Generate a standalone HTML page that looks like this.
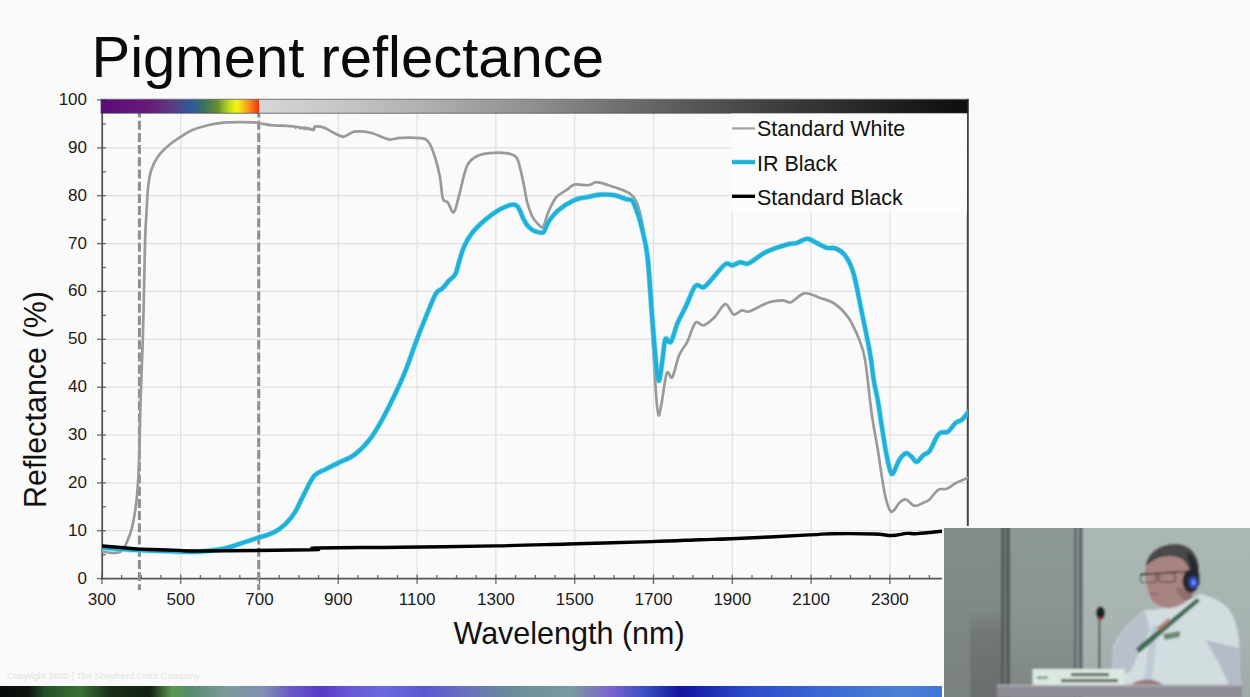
<!DOCTYPE html>
<html><head><meta charset="utf-8"><style>
html,body{margin:0;padding:0;}
body{width:1250px;height:697px;overflow:hidden;position:relative;background:#fafafa;font-family:"Liberation Sans",sans-serif;color:#111;}
.title{position:absolute;left:91.5px;top:24.5px;font-size:58px;line-height:64px;white-space:nowrap;color:#0a0a0a;}
svg.chart{position:absolute;left:0;top:0;}
.yl{position:absolute;left:37px;width:50px;text-align:right;font-size:17px;line-height:18px;color:#1a1a1a;}
.xl{position:absolute;top:591px;width:80px;text-align:center;font-size:17px;line-height:18px;color:#1a1a1a;}
.xt{position:absolute;left:453.5px;top:616.5px;font-size:30.5px;line-height:32px;white-space:nowrap;color:#111;}
.yt{position:absolute;left:19px;top:507.5px;font-size:30.5px;line-height:32px;white-space:nowrap;transform-origin:0 0;transform:rotate(-90deg);color:#111;}
.lg{position:absolute;left:757px;font-size:21.5px;line-height:24px;white-space:nowrap;color:#111;}
.copy{position:absolute;left:7px;top:671px;font-size:9.15px;line-height:11px;color:#e2e2e2;white-space:nowrap;}
.strip{position:absolute;left:0;top:686.4px;width:944px;height:10.6px;background:linear-gradient(90deg,#0a0c0a 0.0%,#0e140e 3.0%,#24502a 4.8%,#3a7036 8.5%,#1a2e1a 11.7%,#142014 15.9%,#5a9a50 18.2%,#5a8a70 20.3%,#7a9a98 23.8%,#8090b0 27.8%,#6a58c8 30.9%,#5a3ac8 34.1%,#6a5ad8 37.3%,#6a6ae0 40.8%,#5a5ad0 45.0%,#6a70c0 49.3%,#6a8c98 54.0%,#7a9aa0 60.4%,#7a62d0 64.8%,#3a50c0 68.3%,#1414a0 72.2%,#2a48c8 78.4%,#3a68d4 86.9%,#4a80d4 95.3%,#4076d8 100.0%);}
.video{position:absolute;left:944px;top:528px;width:306px;height:169px;overflow:hidden;}
.vborder{position:absolute;left:941.5px;top:525.5px;width:310px;height:173px;background:#fafafa;}
</style></head><body>
<div class="title">Pigment reflectance</div>
<svg class="chart" width="1250" height="697" viewBox="0 0 1250 697">
<g stroke="#e0e0e0" stroke-width="1.2"><line x1="102" y1="530.7" x2="968" y2="530.7"/><line x1="102" y1="482.9" x2="968" y2="482.9"/><line x1="102" y1="435.0" x2="968" y2="435.0"/><line x1="102" y1="387.2" x2="968" y2="387.2"/><line x1="102" y1="339.3" x2="968" y2="339.3"/><line x1="102" y1="291.4" x2="968" y2="291.4"/><line x1="102" y1="243.6" x2="968" y2="243.6"/><line x1="102" y1="195.7" x2="968" y2="195.7"/><line x1="102" y1="147.9" x2="968" y2="147.9"/><line x1="180.7" y1="113" x2="180.7" y2="578"/><line x1="259.5" y1="113" x2="259.5" y2="578"/><line x1="338.3" y1="113" x2="338.3" y2="578"/><line x1="417.1" y1="113" x2="417.1" y2="578"/><line x1="495.9" y1="113" x2="495.9" y2="578"/><line x1="574.7" y1="113" x2="574.7" y2="578"/><line x1="653.5" y1="113" x2="653.5" y2="578"/><line x1="732.3" y1="113" x2="732.3" y2="578"/><line x1="811.1" y1="113" x2="811.1" y2="578"/><line x1="889.9" y1="113" x2="889.9" y2="578"/></g>
<g stroke="#6a6a6a" stroke-width="1.3"><line x1="97" y1="578.6" x2="106" y2="578.6"/><line x1="97" y1="530.7" x2="106" y2="530.7"/><line x1="97" y1="482.9" x2="106" y2="482.9"/><line x1="97" y1="435.0" x2="106" y2="435.0"/><line x1="97" y1="387.2" x2="106" y2="387.2"/><line x1="97" y1="339.3" x2="106" y2="339.3"/><line x1="97" y1="291.4" x2="106" y2="291.4"/><line x1="97" y1="243.6" x2="106" y2="243.6"/><line x1="97" y1="195.7" x2="106" y2="195.7"/><line x1="97" y1="147.9" x2="106" y2="147.9"/><line x1="97" y1="100.0" x2="106" y2="100.0"/><line x1="102" y1="554.7" x2="106" y2="554.7"/><line x1="102" y1="506.8" x2="106" y2="506.8"/><line x1="102" y1="459.0" x2="106" y2="459.0"/><line x1="102" y1="411.1" x2="106" y2="411.1"/><line x1="102" y1="363.2" x2="106" y2="363.2"/><line x1="102" y1="315.4" x2="106" y2="315.4"/><line x1="102" y1="267.5" x2="106" y2="267.5"/><line x1="102" y1="219.7" x2="106" y2="219.7"/><line x1="102" y1="171.8" x2="106" y2="171.8"/><line x1="102" y1="123.9" x2="106" y2="123.9"/><line x1="101.9" y1="574.5" x2="101.9" y2="584"/><line x1="180.7" y1="574.5" x2="180.7" y2="584"/><line x1="259.5" y1="574.5" x2="259.5" y2="584"/><line x1="338.3" y1="574.5" x2="338.3" y2="584"/><line x1="417.1" y1="574.5" x2="417.1" y2="584"/><line x1="495.9" y1="574.5" x2="495.9" y2="584"/><line x1="574.7" y1="574.5" x2="574.7" y2="584"/><line x1="653.5" y1="574.5" x2="653.5" y2="584"/><line x1="732.3" y1="574.5" x2="732.3" y2="584"/><line x1="811.1" y1="574.5" x2="811.1" y2="584"/><line x1="889.9" y1="574.5" x2="889.9" y2="584"/><line x1="968.7" y1="574.5" x2="968.7" y2="584"/><line x1="121.6" y1="575" x2="121.6" y2="578.5"/><line x1="141.3" y1="575" x2="141.3" y2="578.5"/><line x1="161.0" y1="575" x2="161.0" y2="578.5"/><line x1="200.4" y1="575" x2="200.4" y2="578.5"/><line x1="220.1" y1="575" x2="220.1" y2="578.5"/><line x1="239.8" y1="575" x2="239.8" y2="578.5"/><line x1="279.2" y1="575" x2="279.2" y2="578.5"/><line x1="298.9" y1="575" x2="298.9" y2="578.5"/><line x1="318.6" y1="575" x2="318.6" y2="578.5"/><line x1="358.0" y1="575" x2="358.0" y2="578.5"/><line x1="377.7" y1="575" x2="377.7" y2="578.5"/><line x1="397.4" y1="575" x2="397.4" y2="578.5"/><line x1="436.8" y1="575" x2="436.8" y2="578.5"/><line x1="456.5" y1="575" x2="456.5" y2="578.5"/><line x1="476.2" y1="575" x2="476.2" y2="578.5"/><line x1="515.6" y1="575" x2="515.6" y2="578.5"/><line x1="535.3" y1="575" x2="535.3" y2="578.5"/><line x1="555.0" y1="575" x2="555.0" y2="578.5"/><line x1="594.4" y1="575" x2="594.4" y2="578.5"/><line x1="614.1" y1="575" x2="614.1" y2="578.5"/><line x1="633.8" y1="575" x2="633.8" y2="578.5"/><line x1="673.2" y1="575" x2="673.2" y2="578.5"/><line x1="692.9" y1="575" x2="692.9" y2="578.5"/><line x1="712.6" y1="575" x2="712.6" y2="578.5"/><line x1="752.0" y1="575" x2="752.0" y2="578.5"/><line x1="771.7" y1="575" x2="771.7" y2="578.5"/><line x1="791.4" y1="575" x2="791.4" y2="578.5"/><line x1="830.8" y1="575" x2="830.8" y2="578.5"/><line x1="850.5" y1="575" x2="850.5" y2="578.5"/><line x1="870.2" y1="575" x2="870.2" y2="578.5"/><line x1="909.6" y1="575" x2="909.6" y2="578.5"/><line x1="929.3" y1="575" x2="929.3" y2="578.5"/><line x1="949.0" y1="575" x2="949.0" y2="578.5"/></g>
<line x1="102.2" y1="113" x2="102.2" y2="578.5" stroke="#555" stroke-width="1.8"/>
<line x1="101" y1="578.7" x2="968" y2="578.7" stroke="#555" stroke-width="1.8"/>
<line x1="967.8" y1="99" x2="967.8" y2="578" stroke="#454545" stroke-width="2"/>
<g stroke="#8e8e8e" stroke-width="3" stroke-dasharray="9 3.2"><line x1="139.4" y1="108.5" x2="139.4" y2="590"/><line x1="258.7" y1="108.5" x2="258.7" y2="590"/></g>
<defs>
<linearGradient id="spec" x1="0" x2="1" y1="0" y2="0">
<stop offset="0" stop-color="#5c0a78"/>
<stop offset="0.3" stop-color="#661a7a"/>
<stop offset="0.45" stop-color="#5e3a80"/>
<stop offset="0.57" stop-color="#2e5a9a"/>
<stop offset="0.65" stop-color="#3a7060"/>
<stop offset="0.74" stop-color="#6a9030"/>
<stop offset="0.81" stop-color="#c0dc20"/>
<stop offset="0.86" stop-color="#f4f412"/>
<stop offset="0.93" stop-color="#f89a20"/>
<stop offset="1" stop-color="#f03010"/>
</linearGradient>
<linearGradient id="grayg" x1="0" x2="1" y1="0" y2="0">
<stop offset="0" stop-color="#d6d6d6"/>
<stop offset="0.128" stop-color="#c4c4c4"/>
<stop offset="0.269" stop-color="#a8a8a8"/>
<stop offset="0.382" stop-color="#909090"/>
<stop offset="0.508" stop-color="#707070"/>
<stop offset="0.621" stop-color="#555555"/>
<stop offset="0.762" stop-color="#383838"/>
<stop offset="0.903" stop-color="#1e1e1e"/>
<stop offset="1" stop-color="#0e0e0e"/>
</linearGradient>
</defs>
<rect x="101" y="99.5" width="158" height="13.6" fill="url(#spec)"/>
<rect x="259" y="99.5" width="709" height="13.6" fill="url(#grayg)"/>
<rect x="101" y="99.3" width="867" height="14" fill="none" stroke="#3c4656" stroke-width="1.2" opacity="0.6"/>
<clipPath id="plot"><rect x="102" y="99" width="866" height="480"/></clipPath><g clip-path="url(#plot)">
<path d="M102.5,551.5 C104.3,551.8 110.4,553.0 113.5,553.0 C116.6,553.0 119.1,552.8 121.3,551.2 C123.5,549.6 124.7,547.1 126.4,543.4 C128.1,539.7 130.1,535.0 131.6,529.2 C133.1,523.4 134.4,516.2 135.5,508.5 C136.6,500.8 137.4,492.2 138.0,482.7 C138.6,473.2 138.9,465.5 139.3,451.7 C139.7,437.9 140.0,418.8 140.6,400.0 C141.2,381.2 142.2,357.1 142.8,338.9 C143.4,320.7 143.6,307.1 144.0,290.6 C144.4,274.1 144.7,253.4 145.1,240.0 C145.5,226.6 146.1,219.3 146.6,210.4 C147.1,201.5 147.4,193.0 148.2,186.3 C149.0,179.6 149.5,175.2 151.2,170.2 C152.9,165.2 155.0,160.5 158.2,156.2 C161.4,151.8 166.6,147.3 170.3,144.1 C174.0,140.9 176.6,139.4 180.3,137.1 C184.0,134.8 187.7,132.1 192.4,130.1 C197.2,128.1 203.7,126.2 208.8,125.0 C213.9,123.8 217.9,123.1 223.2,122.6 C228.5,122.1 235.4,122.1 240.5,122.1 C245.6,122.1 250.1,122.2 253.5,122.4 C256.9,122.6 257.3,123.0 260.7,123.5 C264.1,124.0 268.9,125.1 273.7,125.5 C278.5,125.9 284.0,125.5 289.5,126.0 C295.0,126.5 302.8,127.7 306.8,128.3 C310.9,128.9 312.4,130.1 313.8,129.8 C315.2,129.5 313.3,127.0 315.0,126.6 C316.7,126.2 321.1,126.7 324.0,127.6 C326.9,128.5 329.5,130.7 332.7,132.2 C335.9,133.7 339.8,136.8 343.4,136.7 C347.0,136.6 349.9,132.4 354.4,131.7 C358.9,131.0 364.8,131.4 370.5,132.7 C376.2,134.0 383.6,138.6 388.6,139.4 C393.6,140.2 395.2,138.0 400.6,137.8 C406.0,137.6 416.0,137.5 420.7,138.2 C425.4,138.9 426.4,139.2 428.7,142.2 C431.0,145.2 432.8,150.5 434.7,156.2 C436.6,161.9 438.4,169.3 439.8,176.3 C441.2,183.3 441.5,194.1 442.8,198.4 C444.1,202.8 446.0,200.1 447.8,202.4 C449.6,204.7 452.0,213.4 453.8,212.4 C455.6,211.4 456.6,204.1 458.8,196.4 C461.0,188.7 463.9,173.0 466.9,166.3 C469.9,159.6 473.0,158.4 476.9,156.2 C480.8,154.0 485.1,153.6 490.0,153.1 C494.9,152.6 501.8,152.4 506.1,153.1 C510.5,153.8 513.8,154.6 516.1,157.1 C518.4,159.6 518.8,163.2 520.1,168.1 C521.4,172.9 522.9,180.5 524.1,186.2 C525.3,191.9 525.8,197.2 527.1,202.2 C528.5,207.2 530.4,212.6 532.2,216.3 C534.1,220.0 536.4,222.6 538.2,224.3 C540.0,226.0 541.5,228.7 543.2,226.7 C544.9,224.7 546.0,217.2 548.2,212.3 C550.4,207.4 553.3,200.9 556.3,197.2 C559.3,193.5 563.3,192.3 566.3,190.2 C569.3,188.1 570.6,185.4 574.3,184.6 C578.0,183.8 584.7,185.6 588.4,185.2 C592.1,184.8 593.0,182.2 596.4,182.2 C599.8,182.2 604.5,184.0 608.5,185.2 C612.5,186.4 616.8,187.7 620.5,189.2 C624.2,190.7 627.9,192.0 630.6,194.2 C633.3,196.4 634.6,197.1 636.6,202.2 C638.6,207.3 640.9,215.0 642.6,225.0 C644.3,235.0 645.6,247.0 647.0,262.0 C648.4,277.0 649.8,297.0 651.0,315.0 C652.2,333.0 653.6,355.8 654.5,370.0 C655.4,384.2 655.8,392.4 656.5,400.0 C657.2,407.6 657.8,414.6 658.6,415.4 C659.4,416.1 660.0,411.6 661.4,404.5 C662.8,397.4 665.0,377.7 666.8,373.1 C668.6,368.6 670.2,380.1 672.3,377.2 C674.3,374.2 676.6,361.3 679.1,355.4 C681.6,349.5 684.6,347.2 687.3,341.8 C690.0,336.4 692.7,325.4 695.4,322.7 C698.1,320.0 700.4,326.3 703.6,325.4 C706.8,324.5 710.9,320.7 714.5,317.2 C718.1,313.7 722.2,304.6 725.4,304.2 C728.6,303.8 730.9,313.5 733.6,314.5 C736.3,315.5 739.1,310.9 741.8,310.4 C744.5,309.8 745.5,312.6 750.0,311.2 C754.5,309.8 763.5,304.0 769.0,302.2 C774.5,300.4 779.1,300.3 782.7,300.3 C786.4,300.3 787.3,303.4 790.9,302.2 C794.5,301.0 799.5,294.0 804.5,293.3 C809.5,292.6 815.8,296.5 820.8,298.2 C825.8,299.9 830.0,300.4 834.5,303.6 C839.0,306.8 844.0,311.3 848.1,317.2 C852.2,323.1 856.2,331.9 859.0,339.0 C861.8,346.1 863.0,347.8 865.1,360.0 C867.2,372.2 869.4,397.1 871.5,412.3 C873.6,427.5 875.9,437.7 878.0,451.0 C880.1,464.3 882.4,482.0 884.4,491.9 C886.4,501.8 888.2,507.1 889.8,510.2 C891.4,513.2 892.5,511.4 894.1,510.2 C895.7,508.9 897.5,504.5 899.5,502.7 C901.5,500.9 903.5,499.0 906.0,499.5 C908.5,500.0 911.7,505.4 914.6,505.9 C917.5,506.4 920.7,503.8 923.2,502.7 C925.7,501.6 927.1,501.6 929.6,499.5 C932.1,497.4 935.3,491.6 938.2,489.8 C941.1,488.0 944.0,489.8 946.9,488.7 C949.8,487.6 952.0,485.1 955.5,483.3 C959.0,481.5 965.9,478.8 968.0,477.9" fill="none" stroke="#9a9a9a" stroke-width="2.7" stroke-linejoin="round" stroke-linecap="round"/>
<path d="M102.5,547.8 C106.1,548.0 117.8,548.9 124.0,549.3 C130.2,549.7 131.0,549.9 140.0,550.3 C149.0,550.7 168.0,551.4 178.0,551.6 C188.0,551.8 192.3,552.1 200.0,551.6 C207.7,551.1 217.1,550.0 224.4,548.5 C231.7,547.0 238.2,544.2 243.9,542.4 C249.6,540.6 253.6,539.2 258.5,537.6 C263.4,536.0 268.7,535.0 273.2,532.7 C277.7,530.5 281.8,527.6 285.4,524.1 C289.0,520.6 291.9,517.3 295.1,512.0 C298.4,506.7 301.6,498.5 304.9,492.4 C308.1,486.3 311.1,479.3 314.6,475.4 C318.1,471.5 321.8,471.3 325.8,469.2 C329.8,467.1 334.0,465.1 338.7,462.7 C343.4,460.3 349.0,458.9 354.2,455.0 C359.4,451.1 365.0,445.5 369.7,439.5 C374.4,433.5 378.3,426.6 382.6,418.8 C386.9,411.1 391.7,401.2 395.6,393.0 C399.5,384.8 402.5,378.3 405.9,369.7 C409.3,361.1 412.7,350.6 416.2,341.3 C419.7,332.0 423.7,321.9 427.0,314.0 C430.3,306.1 433.3,297.9 435.9,293.6 C438.5,289.4 440.2,290.6 442.4,288.5 C444.6,286.4 446.8,283.1 448.9,280.7 C451.0,278.3 453.6,277.5 455.3,274.3 C457.0,271.1 457.7,266.1 459.2,261.3 C460.7,256.6 462.2,250.5 464.4,245.8 C466.5,241.1 468.7,237.2 472.1,232.9 C475.5,228.6 480.4,223.9 485.0,220.0 C489.6,216.1 495.5,211.9 500.0,209.3 C504.5,206.8 509.1,205.0 512.1,204.7 C515.1,204.4 516.1,204.7 518.1,207.3 C520.1,209.9 522.4,217.1 524.1,220.3 C525.8,223.5 526.5,224.6 528.2,226.3 C529.9,228.1 531.7,229.8 534.2,230.8 C536.7,231.8 540.9,233.8 543.2,232.4 C545.5,231.0 545.7,226.0 548.2,222.3 C550.7,218.6 553.9,214.0 558.3,210.3 C562.6,206.6 569.6,202.4 574.3,200.2 C579.0,198.0 582.0,198.1 586.4,197.2 C590.8,196.3 595.7,194.9 600.4,194.6 C605.1,194.3 610.1,194.4 614.5,195.2 C618.9,196.0 623.5,198.2 626.5,199.2 C629.5,200.2 630.6,198.3 632.6,201.2 C634.6,204.0 637.0,211.5 638.6,216.3 C640.2,221.1 640.8,223.2 642.3,230.0 C643.8,236.8 646.1,243.7 647.7,257.3 C649.3,270.9 650.6,295.9 651.8,311.8 C653.0,327.7 654.2,342.2 655.1,352.7 C656.0,363.1 656.6,369.9 657.3,374.5 C658.0,379.1 658.5,382.7 659.4,380.0 C660.3,377.3 661.7,364.9 662.7,358.1 C663.7,351.3 664.0,341.8 665.4,339.1 C666.8,336.4 668.8,344.5 670.9,341.8 C673.0,339.1 675.2,328.6 677.7,322.7 C680.2,316.8 683.0,312.4 685.9,306.3 C688.8,300.2 692.4,289.1 695.4,285.9 C698.4,282.7 700.9,288.4 703.6,287.3 C706.3,286.2 708.2,283.0 711.8,279.1 C715.4,275.2 722.0,266.4 725.4,264.1 C728.8,261.8 729.7,265.7 732.2,265.4 C734.7,265.1 737.7,262.5 740.4,262.2 C743.1,261.9 744.3,265.0 748.6,263.3 C752.9,261.6 759.7,255.0 766.3,251.8 C772.9,248.6 783.1,245.6 788.1,244.2 C793.1,242.8 793.1,244.0 796.3,243.1 C799.5,242.2 804.0,238.8 807.2,238.7 C810.4,238.6 812.2,240.8 815.4,242.3 C818.6,243.8 822.9,246.7 826.3,247.7 C829.7,248.7 832.6,247.1 835.8,248.5 C839.0,249.9 842.4,251.7 845.4,255.9 C848.4,260.1 850.9,264.3 853.6,273.6 C856.3,282.9 859.0,298.6 861.7,311.8 C864.4,325.0 867.9,341.3 869.9,352.7 C871.9,364.1 872.4,371.9 873.7,380.0 C875.1,388.1 876.6,393.2 878.0,401.5 C879.4,409.8 880.9,420.5 882.3,429.5 C883.7,438.5 885.2,448.1 886.6,455.3 C888.0,462.5 889.6,469.9 890.9,472.6 C892.1,475.3 892.7,473.7 894.1,471.5 C895.5,469.3 897.5,462.7 899.5,459.6 C901.5,456.6 904.0,453.7 906.0,453.2 C908.0,452.7 909.5,455.0 911.3,456.4 C913.1,457.8 914.7,462.0 916.7,461.8 C918.7,461.6 921.1,457.1 923.2,455.3 C925.4,453.5 927.5,453.9 929.6,451.0 C931.8,448.1 934.3,441.2 936.1,438.1 C937.9,435.1 938.4,433.8 940.4,432.7 C942.4,431.6 945.4,433.3 947.9,431.7 C950.4,430.1 953.2,425.0 955.5,423.0 C957.8,421.0 959.8,421.6 961.9,419.8 C964.0,418.0 967.0,413.6 968.0,412.3" fill="none" stroke="#58d4f0" stroke-width="5.6" stroke-linejoin="round" stroke-linecap="round" opacity="0.55"/>
<path d="M102.5,547.8 C106.1,548.0 117.8,548.9 124.0,549.3 C130.2,549.7 131.0,549.9 140.0,550.3 C149.0,550.7 168.0,551.4 178.0,551.6 C188.0,551.8 192.3,552.1 200.0,551.6 C207.7,551.1 217.1,550.0 224.4,548.5 C231.7,547.0 238.2,544.2 243.9,542.4 C249.6,540.6 253.6,539.2 258.5,537.6 C263.4,536.0 268.7,535.0 273.2,532.7 C277.7,530.5 281.8,527.6 285.4,524.1 C289.0,520.6 291.9,517.3 295.1,512.0 C298.4,506.7 301.6,498.5 304.9,492.4 C308.1,486.3 311.1,479.3 314.6,475.4 C318.1,471.5 321.8,471.3 325.8,469.2 C329.8,467.1 334.0,465.1 338.7,462.7 C343.4,460.3 349.0,458.9 354.2,455.0 C359.4,451.1 365.0,445.5 369.7,439.5 C374.4,433.5 378.3,426.6 382.6,418.8 C386.9,411.1 391.7,401.2 395.6,393.0 C399.5,384.8 402.5,378.3 405.9,369.7 C409.3,361.1 412.7,350.6 416.2,341.3 C419.7,332.0 423.7,321.9 427.0,314.0 C430.3,306.1 433.3,297.9 435.9,293.6 C438.5,289.4 440.2,290.6 442.4,288.5 C444.6,286.4 446.8,283.1 448.9,280.7 C451.0,278.3 453.6,277.5 455.3,274.3 C457.0,271.1 457.7,266.1 459.2,261.3 C460.7,256.6 462.2,250.5 464.4,245.8 C466.5,241.1 468.7,237.2 472.1,232.9 C475.5,228.6 480.4,223.9 485.0,220.0 C489.6,216.1 495.5,211.9 500.0,209.3 C504.5,206.8 509.1,205.0 512.1,204.7 C515.1,204.4 516.1,204.7 518.1,207.3 C520.1,209.9 522.4,217.1 524.1,220.3 C525.8,223.5 526.5,224.6 528.2,226.3 C529.9,228.1 531.7,229.8 534.2,230.8 C536.7,231.8 540.9,233.8 543.2,232.4 C545.5,231.0 545.7,226.0 548.2,222.3 C550.7,218.6 553.9,214.0 558.3,210.3 C562.6,206.6 569.6,202.4 574.3,200.2 C579.0,198.0 582.0,198.1 586.4,197.2 C590.8,196.3 595.7,194.9 600.4,194.6 C605.1,194.3 610.1,194.4 614.5,195.2 C618.9,196.0 623.5,198.2 626.5,199.2 C629.5,200.2 630.6,198.3 632.6,201.2 C634.6,204.0 637.0,211.5 638.6,216.3 C640.2,221.1 640.8,223.2 642.3,230.0 C643.8,236.8 646.1,243.7 647.7,257.3 C649.3,270.9 650.6,295.9 651.8,311.8 C653.0,327.7 654.2,342.2 655.1,352.7 C656.0,363.1 656.6,369.9 657.3,374.5 C658.0,379.1 658.5,382.7 659.4,380.0 C660.3,377.3 661.7,364.9 662.7,358.1 C663.7,351.3 664.0,341.8 665.4,339.1 C666.8,336.4 668.8,344.5 670.9,341.8 C673.0,339.1 675.2,328.6 677.7,322.7 C680.2,316.8 683.0,312.4 685.9,306.3 C688.8,300.2 692.4,289.1 695.4,285.9 C698.4,282.7 700.9,288.4 703.6,287.3 C706.3,286.2 708.2,283.0 711.8,279.1 C715.4,275.2 722.0,266.4 725.4,264.1 C728.8,261.8 729.7,265.7 732.2,265.4 C734.7,265.1 737.7,262.5 740.4,262.2 C743.1,261.9 744.3,265.0 748.6,263.3 C752.9,261.6 759.7,255.0 766.3,251.8 C772.9,248.6 783.1,245.6 788.1,244.2 C793.1,242.8 793.1,244.0 796.3,243.1 C799.5,242.2 804.0,238.8 807.2,238.7 C810.4,238.6 812.2,240.8 815.4,242.3 C818.6,243.8 822.9,246.7 826.3,247.7 C829.7,248.7 832.6,247.1 835.8,248.5 C839.0,249.9 842.4,251.7 845.4,255.9 C848.4,260.1 850.9,264.3 853.6,273.6 C856.3,282.9 859.0,298.6 861.7,311.8 C864.4,325.0 867.9,341.3 869.9,352.7 C871.9,364.1 872.4,371.9 873.7,380.0 C875.1,388.1 876.6,393.2 878.0,401.5 C879.4,409.8 880.9,420.5 882.3,429.5 C883.7,438.5 885.2,448.1 886.6,455.3 C888.0,462.5 889.6,469.9 890.9,472.6 C892.1,475.3 892.7,473.7 894.1,471.5 C895.5,469.3 897.5,462.7 899.5,459.6 C901.5,456.6 904.0,453.7 906.0,453.2 C908.0,452.7 909.5,455.0 911.3,456.4 C913.1,457.8 914.7,462.0 916.7,461.8 C918.7,461.6 921.1,457.1 923.2,455.3 C925.4,453.5 927.5,453.9 929.6,451.0 C931.8,448.1 934.3,441.2 936.1,438.1 C937.9,435.1 938.4,433.8 940.4,432.7 C942.4,431.6 945.4,433.3 947.9,431.7 C950.4,430.1 953.2,425.0 955.5,423.0 C957.8,421.0 959.8,421.6 961.9,419.8 C964.0,418.0 967.0,413.6 968.0,412.3" fill="none" stroke="#20b0d8" stroke-width="4.1" stroke-linejoin="round" stroke-linecap="round"/>
<path d="M102.5,546.0 C106.0,546.3 117.7,547.3 123.8,547.8 C129.9,548.3 130.2,548.7 139.3,549.1 C148.4,549.5 168.0,550.1 178.1,550.4 C188.2,550.7 177.7,551.1 200.0,551.0 C222.3,550.9 292.9,550.3 312.2,549.8 C331.5,549.3 301.3,548.4 315.9,548.0 C330.5,547.6 370.0,547.6 400.0,547.3 C430.0,546.9 468.0,546.4 496.0,545.9 C524.0,545.4 542.0,544.7 568.0,544.0 C594.0,543.3 630.0,542.3 652.0,541.6 C674.0,540.9 686.7,540.2 700.0,539.7 C713.3,539.2 713.5,539.6 731.8,538.8 C750.1,538.0 793.0,535.7 809.6,534.9 C826.2,534.1 820.4,533.9 831.2,533.8 C842.0,533.6 864.3,533.7 874.4,534.0 C884.5,534.3 886.3,535.6 891.7,535.5 C897.1,535.4 902.5,533.7 906.8,533.4 C911.1,533.1 911.4,534.0 917.6,533.6 C923.8,533.2 939.6,531.4 944.0,531.0" fill="none" stroke="#000" stroke-width="3.4" stroke-linejoin="round" stroke-linecap="round"/>
<path d="M280.0,125.4 L281.2,125.2 L282.4,126.4 L283.6,125.3 L284.8,126.4 L286.0,126.2 L287.2,125.6 L288.4,126.7 L289.6,125.8 L290.8,126.8 L292.0,126.2 L293.2,126.3 L294.4,127.2 L295.6,128.2 L296.8,126.8 L298.0,127.1 L299.2,128.2 L300.4,129.0 L301.6,128.3 L302.8,128.1 L304.0,129.5 L305.2,127.5 L306.4,129.5 L307.6,128.3 L308.8,128.2 L310.0,128.2 L311.2,128.8 L312.4,130.0 L313.6,128.8" fill="none" stroke="#9a9a9a" stroke-width="1.6"/>
</g>
<rect x="731" y="113.5" width="236" height="99" fill="#fbfbfb" opacity="0.85"/>
<line x1="732" y1="128.4" x2="755" y2="128.4" stroke="#a0a0a0" stroke-width="2.2"/>
<line x1="732" y1="162.1" x2="755" y2="162.1" stroke="#58d4f0" stroke-width="5.2" opacity="0.55"/>
<line x1="732" y1="162.1" x2="755" y2="162.1" stroke="#20b0d8" stroke-width="3.8"/>
<line x1="732" y1="196.3" x2="755" y2="196.3" stroke="#000" stroke-width="3.4"/>
</svg>
<div class="yl" style="top:569.6px">0</div><div class="yl" style="top:521.7px">10</div><div class="yl" style="top:473.9px">20</div><div class="yl" style="top:426.0px">30</div><div class="yl" style="top:378.2px">40</div><div class="yl" style="top:330.3px">50</div><div class="yl" style="top:282.4px">60</div><div class="yl" style="top:234.6px">70</div><div class="yl" style="top:186.7px">80</div><div class="yl" style="top:138.9px">90</div><div class="yl" style="top:91.0px">100</div><div class="xl" style="left:61.9px">300</div><div class="xl" style="left:140.7px">500</div><div class="xl" style="left:219.5px">700</div><div class="xl" style="left:298.3px">900</div><div class="xl" style="left:377.1px">1100</div><div class="xl" style="left:455.9px">1300</div><div class="xl" style="left:534.7px">1500</div><div class="xl" style="left:613.5px">1700</div><div class="xl" style="left:692.3px">1900</div><div class="xl" style="left:771.1px">2100</div><div class="xl" style="left:849.9px">2300</div>
<div class="xt">Wavelength (nm)</div>
<div class="yt">Reflectance (%)</div>
<div class="lg" style="top:117.3px">Standard White</div>
<div class="lg" style="top:151.5px">IR Black</div>
<div class="lg" style="top:185.5px">Standard Black</div>
<div class="copy">Copyright 2025 | The Shepherd Color Company</div>
<div class="strip"></div>
<div class="vborder"></div>
<svg class="video" width="306" height="169" viewBox="944 528 306 169">
<defs>
<linearGradient id="bgR" x1="0" x2="0" y1="0" y2="1"><stop offset="0" stop-color="#aab8b6"/><stop offset="0.6" stop-color="#a8b4b2"/><stop offset="1" stop-color="#a0a8a6"/></linearGradient>
<linearGradient id="bgM" x1="0" x2="0" y1="0" y2="1"><stop offset="0" stop-color="#8e9a94"/><stop offset="0.5" stop-color="#8a9590"/><stop offset="1" stop-color="#7e8482"/></linearGradient>
<linearGradient id="bgL" x1="0" x2="0" y1="0" y2="1"><stop offset="0" stop-color="#848e8a"/><stop offset="1" stop-color="#7a8280"/></linearGradient>
<linearGradient id="shadowL" x1="0" x2="0" y1="0" y2="1"><stop offset="0" stop-color="#6e7272" stop-opacity="0"/><stop offset="0.3" stop-color="#6e7272" stop-opacity="0.85"/><stop offset="1" stop-color="#6a6e6e"/></linearGradient>
<radialGradient id="blue" cx="0.5" cy="0.5" r="0.5"><stop offset="0" stop-color="#9ab8ff"/><stop offset="0.45" stop-color="#3258e0"/><stop offset="1" stop-color="#283060"/></radialGradient>
<filter id="soft" x="-5%" y="-5%" width="110%" height="110%"><feGaussianBlur stdDeviation="0.9"/></filter>
</defs>
<g filter="url(#soft)">
<rect x="940" y="524" width="314" height="177" fill="url(#bgR)"/>
<rect x="940" y="524" width="62" height="177" fill="url(#bgL)"/>
<rect x="970" y="610" width="32" height="90" fill="url(#shadowL)"/>
<rect x="1001" y="524" width="9.5" height="177" fill="#525a58"/>
<rect x="1004" y="524" width="2.5" height="177" fill="#6e7876"/>
<rect x="1010.5" y="524" width="63.5" height="177" fill="url(#bgM)"/>
<rect x="1074" y="524" width="8.7" height="177" fill="#5e686a"/>
<rect x="1076.5" y="524" width="2.5" height="177" fill="#869094"/>
<!-- mic -->
<rect x="1098.6" y="616" width="1.6" height="54" fill="#303432"/>
<ellipse cx="1100.5" cy="613" rx="4.6" ry="6.5" fill="#18221e"/>
<ellipse cx="1100.5" cy="618.5" rx="3" ry="1.6" fill="#a83040"/>
<!-- shirt -->
<path d="M1145,610 C1134,618 1121,630 1113,648 L1111,697 L1241,697 L1239,640 C1237,625 1233,614 1227,607 C1219,600 1209,596 1200,594 C1190,600 1180,605 1166,608 C1158,610 1150,610 1145,610 Z" fill="#d2dde0"/>
<path d="M1113,650 C1121,632 1134,618 1145,611 L1150,630 C1142,645 1136,660 1130,672 L1112,676 Z" fill="#b8c0cc"/>
<path d="M1205,640 C1218,660 1228,680 1233,697 L1241,697 L1239,648 Z" fill="#b4bcc8"/>
<path d="M1152,626 C1150,640 1146,660 1144,680 L1152,682 C1154,662 1156,642 1158,626 Z" fill="#c0cad4"/>
<!-- lanyard -->
<path d="M1136,649 L1141,644 L1197,598 L1200,601 L1144,649 L1139,653 Z" fill="#3c6a52"/>
<path d="M1156,628 L1168,618 L1172,621 L1160,631 Z" fill="#b06a6a" opacity="0.7"/>
<path d="M1163,634 L1180,631 L1180,637 L1165,640 Z" fill="#6a8a72"/>
<!-- neck -->
<path d="M1152,600 C1158,613 1176,612 1192,598 L1194,590 L1154,592 Z" fill="#c8cace"/>
<!-- face -->
<path d="M1147,562 C1150,552 1162,548 1176,549 C1190,551 1196,560 1196,574 L1194,590 C1190,602 1178,608 1166,608 C1155,607 1150,600 1148,590 C1145,580 1144,570 1147,562 Z" fill="#a88480"/>
<path d="M1146,563 C1150,550 1162,544 1175,544 C1189,544 1197,552 1199,566 L1199,584 L1193,586 C1191,572 1188,564 1182,559 C1172,554 1158,555 1146,566 Z" fill="#4a4a4c"/>
<path d="M1186,552 C1196,556 1200,566 1200,584 L1194,590 L1190,566 Z" fill="#2c2c2e"/>
<path d="M1175,588 C1180,598 1185,604 1192,598 L1194,588 Z" fill="#8e7070"/>
<ellipse cx="1154" cy="594" rx="4" ry="1.8" fill="#925e60" opacity="0.6"/>
<!-- glasses -->
<path d="M1140,575 C1160,573 1175,572 1188,571.5" stroke="#4a4040" stroke-width="1.3" fill="none"/>
<rect x="1140.5" y="573.5" width="16" height="9" rx="2.5" fill="none" stroke="#4a4242" stroke-width="1.1"/>
<rect x="1159" y="573" width="16" height="9" rx="2.5" fill="none" stroke="#4a4242" stroke-width="1.1"/>
<!-- headphone -->
<ellipse cx="1191" cy="581" rx="8.5" ry="11.5" fill="#26262c"/>
<ellipse cx="1193.5" cy="582.5" rx="5.5" ry="7" fill="url(#blue)"/>
<!-- hand -->
<path d="M1132,684 C1142,677 1158,678 1166,688 L1168,697 L1130,697 Z" fill="#9a7a7a"/>
<!-- podium -->
<rect x="997" y="685.5" width="245" height="12" fill="#8e8c94"/>
<rect x="997" y="684.5" width="245" height="2" fill="#aaaab2"/>
<!-- name plate -->
<rect x="1032.5" y="669" width="92" height="16" fill="#dae8e0"/>
<rect x="1037" y="676.5" width="11" height="2.5" fill="#7a9a8a"/>
<rect x="1071" y="673" width="38" height="3.2" fill="#4a5048" opacity="0.85"/>
<rect x="1061" y="679" width="57" height="3.2" fill="#4a5048" opacity="0.85"/>
</g>
</svg>

</body></html>
